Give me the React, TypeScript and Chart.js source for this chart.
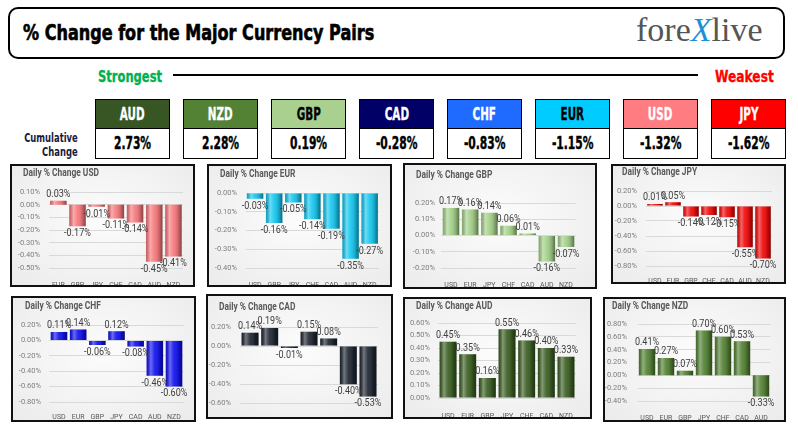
import React, { useEffect, useRef } from "react";
import { Chart, registerables } from "chart.js";

Chart.register(...registerables);

// ---------------- DATA ----------------
const strengthCurrencies = ["AUD", "NZD", "GBP", "CAD", "CHF", "EUR", "USD", "JPY"];
const cumulativeChange = [2.73, 2.28, 0.19, -0.28, -0.83, -1.15, -1.32, -1.62];

const usdCategories = ["EUR", "GBP", "JPY", "CHF", "CAD", "AUD", "NZD"];
const usdValues = [0.03, -0.17, -0.01, -0.11, -0.14, -0.45, -0.41];
const usdAxis = [-0.5, 0.1, 0.1]; // min, max, step

const eurCategories = ["USD", "GBP", "JPY", "CHF", "CAD", "AUD", "NZD"];
const eurValues = [-0.03, -0.16, -0.05, -0.14, -0.19, -0.35, -0.27];
const eurAxis = [-0.4, 0.0, 0.1];

const gbpCategories = ["USD", "EUR", "JPY", "CHF", "CAD", "AUD", "NZD"];
const gbpValues = [0.17, 0.16, 0.14, 0.06, 0.01, -0.16, -0.07];
const gbpAxis = [-0.2, 0.2, 0.1];

const jpyCategories = ["USD", "EUR", "GBP", "CHF", "CAD", "AUD", "NZD"];
const jpyValues = [0.01, 0.05, -0.14, -0.12, -0.15, -0.55, -0.7];
const jpyAxis = [-0.8, 0.2, 0.2];

const chfCategories = ["USD", "EUR", "GBP", "JPY", "CAD", "AUD", "NZD"];
const chfValues = [0.11, 0.14, -0.06, 0.12, -0.08, -0.46, -0.6];
const chfAxis = [-0.8, 0.2, 0.2];

const cadCategories = ["USD", "EUR", "GBP", "JPY", "CHF", "AUD", "NZD"];
const cadValues = [0.14, 0.19, -0.01, 0.15, 0.08, -0.4, -0.53];
const cadAxis = [-0.6, 0.2, 0.2];

const audCategories = ["USD", "EUR", "GBP", "JPY", "CHF", "CAD", "NZD"];
const audValues = [0.45, 0.35, 0.16, 0.55, 0.46, 0.4, 0.33];
const audAxis = [0.0, 0.6, 0.1];

const nzdCategories = ["USD", "EUR", "GBP", "JPY", "CHF", "CAD", "AUD"];
const nzdValues = [0.41, 0.27, 0.07, 0.7, 0.6, 0.53, -0.33];
const nzdAxis = [-0.4, 0.8, 0.2];

// ---------------- STYLE / LAYOUT ----------------
const COND = "'DejaVu Sans Condensed', 'DejaVu Sans', sans-serif";
const CHART_FONT = "Roboto, 'Liberation Sans', sans-serif";
const BORDER = 2;

const headerColors = ["#375623", "#548235", "#a9d08e", "#000066", "#1f6bff", "#00ccff", "#ff7c80", "#ff0000"];
const headerText = ["#fff", "#fff", "#000", "#fff", "#fff", "#000", "#fff", "#fff"];

type Box = { x: number; y: number; w: number; h: number };
type Area = { l: number; r: number; t: number; b: number };
type PanelCfg = {
  title: string;
  cats: string[];
  vals: number[];
  axis: number[];
  color: string;
  box: Box;
  ca: Area;
  labelRight: number;
  catY: number;
  titleX: number;
  titleY: number;
};

const panels: PanelCfg[] = [
  { title: "Daily % Change USD", cats: usdCategories, vals: usdValues, axis: usdAxis, color: "#f7787c",
    box: { x: 10, y: 164, w: 185, h: 123 }, ca: { l: 48.7, r: 183, t: 192, b: 268 }, labelRight: 40, catY: 277, titleX: 23, titleY: 173 },
  { title: "Daily % Change EUR", cats: eurCategories, vals: eurValues, axis: eurAxis, color: "#16c6ee",
    box: { x: 207, y: 164, w: 185, h: 123 }, ca: { l: 245.5, r: 379.2, t: 193, b: 268 }, labelRight: 237, catY: 277, titleX: 220, titleY: 174 },
  { title: "Daily % Change GBP", cats: gbpCategories, vals: gbpValues, axis: gbpAxis, color: "#a3cf88",
    box: { x: 403, y: 163, w: 194, h: 126 }, ca: { l: 441.4, r: 575.6, t: 203, b: 268 }, labelRight: 435, catY: 277, titleX: 416, titleY: 175 },
  { title: "Daily % Change JPY", cats: jpyCategories, vals: jpyValues, axis: jpyAxis, color: "#f00808",
    box: { x: 611, y: 164, w: 175, h: 120 }, ca: { l: 646, r: 772, t: 191, b: 266 }, labelRight: 637, catY: 273, titleX: 622, titleY: 172 },
  { title: "Daily % Change CHF", cats: chfCategories, vals: chfValues, axis: chfAxis, color: "#1010ee",
    box: { x: 11, y: 296, w: 185, h: 126 }, ca: { l: 49.4, r: 183.6, t: 325, b: 402 }, labelRight: 41, catY: 409, titleX: 25, titleY: 306 },
  { title: "Daily % Change CAD", cats: cadCategories, vals: cadValues, axis: cadAxis, color: "#1e2631",
    box: { x: 206, y: 294, w: 187, h: 125 }, ca: { l: 240.2, r: 377.8, t: 327, b: 405 }, labelRight: 231, catY: 413, titleX: 219, titleY: 307 },
  { title: "Daily % Change AUD", cats: audCategories, vals: audValues, axis: audAxis, color: "#3a5e22",
    box: { x: 403, y: 297, w: 189, h: 122 }, ca: { l: 438.2, r: 575.8, t: 323, b: 398 }, labelRight: 430, catY: 408, titleX: 416, titleY: 306 },
  { title: "Daily % Change NZD", cats: nzdCategories, vals: nzdValues, axis: nzdAxis, color: "#538134",
    box: { x: 603, y: 297, w: 183, h: 125 }, ca: { l: 637.5, r: 770.5, t: 324, b: 401 }, labelRight: 627, catY: 410, titleX: 612, titleY: 306 },
];

const fmt = (v: number) => (Math.abs(v) < 1e-9 ? 0 : v).toFixed(2) + "%";

const cylinderPlugin = {
  id: "cylinder",
  afterDatasetsDraw(chart: any) {
    const ctx = chart.ctx as CanvasRenderingContext2D;
    const meta = chart.getDatasetMeta(0);
    const values = chart.data.datasets[0].data as number[];
    ctx.save();
    meta.data.forEach((el: any, i: number) => {
      const p = el.getProps(["x", "y", "base", "width"], true);
      const left = p.x - p.width / 2;
      const top = Math.min(p.y, p.base);
      const bot = Math.max(p.y, p.base);
      const g = ctx.createLinearGradient(left, 0, left + p.width, 0);
      g.addColorStop(0, "rgba(0,0,0,0.18)");
      g.addColorStop(0.25, "rgba(255,255,255,0.38)");
      g.addColorStop(0.5, "rgba(255,255,255,0.08)");
      g.addColorStop(0.8, "rgba(0,0,0,0.18)");
      g.addColorStop(1, "rgba(0,0,0,0.45)");
      ctx.fillStyle = g;
      ctx.fillRect(left, top, p.width, bot - top);
      // data label (condensed)
      const v = values[i];
      ctx.save();
      ctx.font = `10.5px ${CHART_FONT}`;
      ctx.fillStyle = "#404040";
      ctx.textAlign = "center";
      if (v >= 0) {
        ctx.textBaseline = "bottom";
        ctx.translate(p.x, top - 1);
      } else {
        ctx.textBaseline = "top";
        ctx.translate(p.x, bot + 2);
      }
      ctx.scale(0.86, 1);
      ctx.fillText(fmt(v), 0, 0);
      ctx.restore();
    });
    ctx.restore();
  },
};

function Panel({ cfg }: { cfg: PanelCfg }) {
  const ref = useRef<HTMLCanvasElement>(null);
  const { box, ca } = cfg;
  const left = box.x + BORDER;
  const top = box.y + BORDER;
  const W = box.w - 2 * BORDER;
  const H = box.h - 2 * BORDER;

  useEffect(() => {
    const xFont = 7;
    const chart = new Chart(ref.current as HTMLCanvasElement, {
      type: "bar",
      data: {
        labels: cfg.cats,
        datasets: [
          {
            data: cfg.vals,
            backgroundColor: cfg.color,
            borderWidth: 0,
            categoryPercentage: 1,
            barPercentage: 0.86,
            minBarLength: 2,
          },
        ],
      },
      options: {
        animation: false,
        responsive: false,
        maintainAspectRatio: false,
        events: [],
        layout: { padding: { top: ca.t - top, right: left + W - ca.r, bottom: 0, left: 0 } },
        plugins: { legend: { display: false }, tooltip: { enabled: false }, title: { display: false } },
        scales: {
          x: {
            grid: { display: false },
            border: { display: false },
            ticks: {
              autoSkip: false,
              maxRotation: 0,
              minRotation: 0,
              padding: cfg.catY - ca.b - xFont * 0.6,
              font: { family: CHART_FONT, size: xFont },
              color: "#595959",
            },
            afterFit: (s: any) => {
              s.height = top + H - ca.b;
            },
          },
          y: {
            min: cfg.axis[0],
            max: cfg.axis[1],
            grid: { color: "#d9d9d9", drawTicks: false, lineWidth: 1 },
            border: { display: false },
            ticks: {
              stepSize: cfg.axis[2],
              autoSkip: false,
              padding: ca.l - cfg.labelRight,
              font: { family: CHART_FONT, size: 7.5 },
              color: "#7f7f7f",
              callback: (v: any) => fmt(Number(v)),
            },
            afterFit: (s: any) => {
              s.width = ca.l - left;
            },
          },
        },
      } as any,
      plugins: [cylinderPlugin],
    });
    return () => chart.destroy();
  }, []);

  return (
    <div
      style={{
        position: "absolute",
        left: box.x,
        top: box.y,
        width: box.w,
        height: box.h,
        boxSizing: "border-box",
        border: `${BORDER}px solid #111`,
        background: "radial-gradient(ellipse at 50% 45%, #fcfcfc 0%, #f2f2f2 60%, #ebebeb 100%)",
      }}
    >
      <canvas ref={ref} width={W} height={H} style={{ position: "absolute", left: 0, top: 0, width: W, height: H }} />
      <div
        style={{
          position: "absolute",
          left: cfg.titleX - left,
          top: cfg.titleY - top - 6,
          lineHeight: "12px",
          fontSize: 10,
          fontWeight: "bold",
          color: "#595959",
          fontFamily: CHART_FONT,
          whiteSpace: "nowrap",
          transform: "scaleX(0.84)",
          transformOrigin: "left center",
        }}
      >
        {cfg.title}
      </div>
    </div>
  );
}

const squeeze = (s: number, origin = "center"): React.CSSProperties => ({
  display: "inline-block",
  transform: `scaleX(${s})`,
  transformOrigin: origin,
  whiteSpace: "nowrap",
});

export default function App() {
  return (
    <div
      style={{
        position: "absolute",
        left: 0,
        top: 0,
        width: 798,
        height: 435,
        background: "#fff",
        overflow: "hidden",
        fontFamily: COND,
      }}
    >
      {/* header box */}
      <div
        style={{
          position: "absolute",
          left: 8,
          top: 7,
          width: 777,
          height: 52,
          boxSizing: "border-box",
          border: "2px solid #000",
          borderRadius: 10,
        }}
      />
      <div
        style={{
          position: "absolute",
          left: 23,
          top: 21,
          lineHeight: "24px",
          fontSize: 21,
          fontWeight: "bold",
          color: "#000",
          WebkitTextStroke: "0.6px #000",
        }}
      >
        <span style={squeeze(0.85, "left center")}>% Change for the Major Currency Pairs</span>
      </div>
      <div
        style={{
          position: "absolute",
          left: 636,
          top: 13,
          lineHeight: "34px",
          fontSize: 34,
          fontFamily: "'Liberation Serif', serif",
          color: "#555",
          whiteSpace: "nowrap",
        }}
      >
        fore<span style={{ color: "#1d8fd8", fontStyle: "italic" }}>X</span>live
      </div>

      {/* strongest - weakest */}
      <div style={{ position: "absolute", left: 98, top: 67, lineHeight: "20px", fontSize: 16, fontWeight: "bold", color: "#00b050", WebkitTextStroke: "0.3px #00b050" }}>
        <span style={squeeze(0.8, "left center")}>Strongest</span>
      </div>
      <div style={{ position: "absolute", left: 173, top: 74, width: 525, height: 2, background: "#000" }} />
      <div style={{ position: "absolute", left: 715, top: 67, lineHeight: "20px", fontSize: 16, fontWeight: "bold", color: "#ff0000", WebkitTextStroke: "0.3px #ff0000" }}>
        <span style={squeeze(0.85, "left center")}>Weakest</span>
      </div>

      {/* cumulative label */}
      <div
        style={{
          position: "absolute",
          left: 0,
          width: 78,
          top: 131,
          textAlign: "right",
          fontSize: 12,
          lineHeight: "14px",
          fontWeight: "bold",
          color: "#1a1a40",
        }}
      >
        <span style={squeeze(0.78, "right center")}>Cumulative</span>
        <br />
        <span style={squeeze(0.78, "right center")}>Change</span>
      </div>

      {strengthCurrencies.map((c, i) => {
        const x = 95 + i * 88;
        return (
          <React.Fragment key={c}>
            <div
              style={{
                position: "absolute",
                left: x,
                top: 99,
                width: 75,
                height: 30,
                boxSizing: "border-box",
                border: "1px solid #000",
                background: headerColors[i],
                color: headerText[i],
                fontSize: 17,
                lineHeight: "28px",
                fontWeight: "bold",
                textAlign: "center",
                WebkitTextStroke: `0.3px ${headerText[i]}`,
              }}
            >
              <span style={squeeze(0.68)}>{c}</span>
            </div>
            <div
              style={{
                position: "absolute",
                left: x,
                top: 128,
                width: 75,
                height: 31,
                boxSizing: "border-box",
                border: "1px solid #000",
                background: "#fff",
                color: "#000",
                fontSize: 17,
                lineHeight: "29px",
                fontWeight: "bold",
                textAlign: "center",
                WebkitTextStroke: "0.4px #000",
              }}
            >
              <span style={squeeze(0.7)}>{cumulativeChange[i].toFixed(2) + "%"}</span>
            </div>
          </React.Fragment>
        );
      })}

      {panels.map((p) => (
        <Panel key={p.title} cfg={p} />
      ))}
    </div>
  );
}
